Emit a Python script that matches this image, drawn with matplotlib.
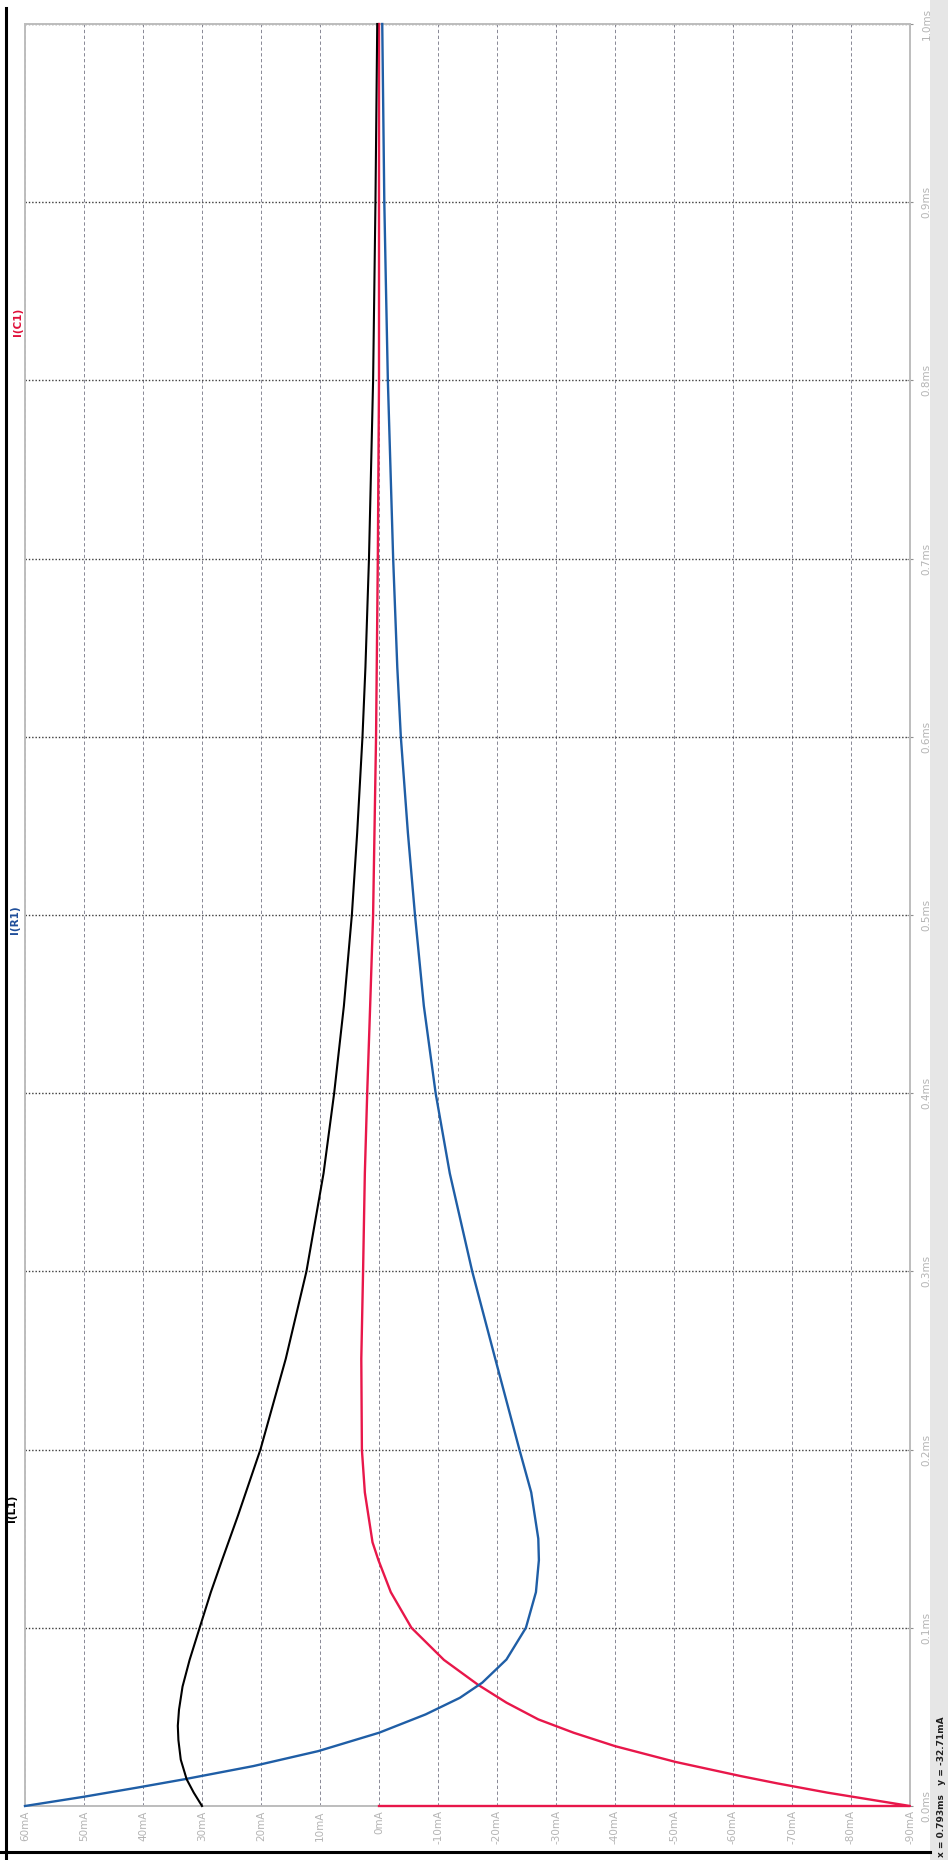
import numpy as np
import matplotlib.pyplot as plt
from matplotlib.lines import Line2D
from matplotlib.patches import Rectangle

# time axis (ms) and currents (mA)
t_L1 = [0.0, 0.0075, 0.015, 0.026, 0.037, 0.045, 0.054, 0.067, 0.082, 0.100,
        0.120, 0.138, 0.163, 0.200, 0.251, 0.300, 0.355, 0.400, 0.449, 0.500,
        0.546, 0.600, 0.639, 0.700, 0.800, 0.900, 1.000]
i_L1 = [30.0, 31.4, 32.6, 33.6, 34.0, 34.1, 33.9, 33.3, 32.1, 30.4,
        28.5, 26.6, 23.9, 20.1, 15.8, 12.3, 9.4, 7.6, 5.95, 4.6,
        3.7, 2.8, 2.3, 1.7, 1.0, 0.6, 0.3]

t_R1 = [0.0, 0.0052, 0.0103, 0.015, 0.0224, 0.0308, 0.0411, 0.0514, 0.0607,
        0.0692, 0.0822, 0.100, 0.120, 0.138, 0.150, 0.176, 0.200, 0.251,
        0.300, 0.355, 0.400, 0.449, 0.500, 0.546, 0.600, 0.639, 0.700,
        0.800, 0.857, 0.900, 1.000]
i_R1 = [60.0, 50.0, 41.0, 33.0, 21.3, 10.3, 0.0, -7.9, -13.7,
        -17.5, -21.6, -24.9, -26.6, -27.1, -27.0, -25.8, -23.8, -19.7,
        -15.8, -12.0, -9.6, -7.6, -6.1, -4.9, -3.7, -3.1, -2.4,
        -1.5, -1.15, -0.9, -0.55]

t_C1 = [0.0, 0.0, 0.0075, 0.0127, 0.0168, 0.0247, 0.0336, 0.0411, 0.0486,
        0.058, 0.068, 0.082, 0.100, 0.120, 0.138, 0.148, 0.176, 0.200,
        0.251, 0.300, 0.355, 0.400, 0.449, 0.500, 0.600, 0.700, 0.800, 1.000]
i_C1 = [0.0, -90.0, -76.0, -67.5, -61.3, -50.3, -40.0, -33.0, -27.0,
        -21.6, -16.8, -11.0, -5.5, -2.0, 0.1, 1.1, 2.4, 2.9,
        3.0, 2.7, 2.4, 2.0, 1.5, 1.0, 0.5, 0.2, 0.0, 0.0]

current_ticks = list(range(60, -91, -10))
current_labels = ["%dmA" % v for v in current_ticks]
time_ticks = [round(0.1 * k, 1) for k in range(11)]
time_labels = ["%.1fms" % v for v in time_ticks]

W, H = 948, 1860
fig = plt.figure(figsize=(W / 100, H / 100), dpi=100)
fig.patch.set_facecolor("white")

ax = fig.add_axes([25 / W, 54 / H, 885 / W, 1782 / H])
ax.set_xlim(60, -90)
ax.set_ylim(0, 1.0)

ax.set_xticks(current_ticks)
ax.set_xticklabels(current_labels)
ax.set_yticks(time_ticks)
ax.set_yticklabels(time_labels)
ax.yaxis.tick_right()

ax.tick_params(axis="x", length=0, labelsize=7.5, labelcolor="#b4b4b4",
               labelrotation=90, pad=3)
ax.tick_params(axis="y", direction="inout", length=5, color="#909090",
               labelsize=7.5, labelcolor="#b4b4b4", labelrotation=90, pad=6)
for lab in ax.get_yticklabels():
    lab.set_verticalalignment("center")

ax.grid(axis="x", linestyle=(0, (4, 3)), color="#757585", lw=0.6)
ax.grid(axis="y", linestyle=(0, (1, 1.4)), color="#3a3a3a", lw=1.0)
for s in ax.spines.values():
    s.set_color("#bdbdbd")
    s.set_linewidth(1.4)

ax.plot(i_C1, t_C1, color="#e8174a", lw=1.7, zorder=3, clip_on=False)
ax.plot(i_R1, t_R1, color="#1f5ea6", lw=1.7, zorder=4, clip_on=False)
ax.plot(i_L1, t_L1, color="black", lw=1.5, zorder=5, clip_on=False)

# trace names, rotated like the rest of the screen
fig.text(12 / W, 1 - 1508 / H, "I(L1)", rotation=90, color="black",
         fontsize=7.5, fontweight="bold", ha="center", va="center")
fig.text(15 / W, 1 - 920 / H, "I(R1)", rotation=90, color="#1f4e9a",
         fontsize=7.5, fontweight="bold", ha="center", va="center")
fig.text(18 / W, 1 - 322 / H, "I(C1)", rotation=90, color="#e0103a",
         fontsize=7.5, fontweight="bold", ha="center", va="center")

# window frame bits
fig.add_artist(Rectangle((930 / W, 0), 18 / W, 1, transform=fig.transFigure,
                         facecolor="#e6e6e6", edgecolor="none", zorder=0))
fig.add_artist(Line2D([6 / W, 6 / W], [0, 1 - 8 / H], color="black", lw=2.2,
                      transform=fig.transFigure))
fig.add_artist(Line2D([0, 930 / W], [8 / H, 8 / H], color="black", lw=2.2,
                      transform=fig.transFigure))
fig.text(942 / W, 73 / H, "x = 0.793ms   y = -32.71mA", rotation=90,
         color="#202020", fontsize=6.5, fontweight="bold",
         ha="center", va="center")

fig.savefig("out.png", dpi=100)
